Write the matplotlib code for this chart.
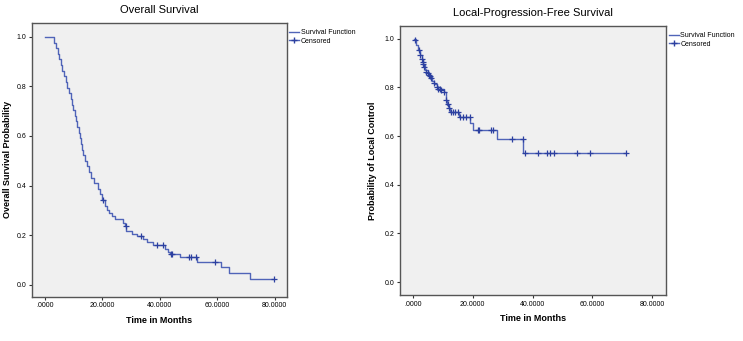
import numpy as np
import matplotlib.pyplot as plt
from matplotlib.lines import Line2D

plt.rcParams['font.family'] = ['Liberation Sans', 'DejaVu Sans']

# Overall survival: step times (months) and survival after each step
os_times = [0.0, 3.3, 3.9, 4.5, 5.0, 5.5, 6.1, 6.6, 7.2, 7.7, 8.3, 8.9, 9.4, 9.9,
            10.4, 10.9, 11.3, 11.7, 12.1, 12.5, 12.9, 13.3, 13.9, 14.5, 15.3,
            16.1, 17.1, 18.3, 19.0, 19.8, 20.9, 21.6, 22.4, 23.3, 24.3, 27.2,
            27.8, 28.3, 30.4, 31.9, 34.0, 35.5, 37.5, 41.9, 42.9, 43.5, 47.0,
            53.0, 61.1, 63.9, 71.5, 79.7]
os_surv = [1.0, 0.977, 0.955, 0.932, 0.909, 0.886, 0.864, 0.841, 0.818, 0.795,
           0.773, 0.750, 0.727, 0.705, 0.682, 0.659, 0.636, 0.614, 0.591, 0.568,
           0.545, 0.523, 0.500, 0.477, 0.455, 0.432, 0.409, 0.386, 0.364, 0.341,
           0.318, 0.300, 0.288, 0.277, 0.265, 0.250, 0.238, 0.215, 0.205, 0.195,
           0.185, 0.170, 0.158, 0.145, 0.132, 0.122, 0.113, 0.093, 0.070, 0.046,
           0.023, 0.023]
os_cens_t = [20.3, 28.2, 33.6, 38.9, 41.2, 43.7, 44.1, 50.3, 50.9, 52.7, 59.2, 79.7]
os_cens_s = [0.341, 0.238, 0.195, 0.158, 0.158, 0.122, 0.122, 0.113, 0.113, 0.113,
             0.093, 0.023]

# Local-progression-free survival
lp_times = [0.3, 1.2, 1.8, 2.4, 3.0, 3.5, 4.2, 5.0, 5.8, 6.6, 7.3, 8.1, 9.2,
            10.5, 11.2, 11.6, 12.0, 12.5, 15.6, 19.2, 20.3, 28.3, 36.9, 71.3]
lp_surv = [1.0, 0.975, 0.955, 0.935, 0.915, 0.894, 0.870, 0.855, 0.843, 0.828,
           0.815, 0.800, 0.792, 0.780, 0.750, 0.729, 0.715, 0.700, 0.680, 0.655,
           0.627, 0.587, 0.530, 0.530]
lp_cens_t = [0.7, 2.1, 2.6, 3.2, 3.4, 3.5, 3.7, 4.6, 5.0, 5.3, 5.7, 6.0, 7.3,
             8.1, 8.5, 9.0, 9.4, 10.5, 11.2, 11.7, 12.2, 12.9, 13.5, 14.1, 15.1,
             15.7, 16.8, 17.9, 19.0, 21.7, 22.3, 26.2, 26.7, 33.3, 36.8, 37.6,
             42.0, 45.0, 45.8, 47.2, 55.0, 59.1, 71.3]
lp_cens_s = [0.996, 0.952, 0.934, 0.916, 0.905, 0.895, 0.885, 0.865, 0.858,
             0.852, 0.846, 0.840, 0.818, 0.800, 0.795, 0.792, 0.790, 0.780, 0.750,
             0.730, 0.715, 0.700, 0.700, 0.700, 0.700, 0.680, 0.680, 0.680, 0.680,
             0.627, 0.627, 0.627, 0.627, 0.587, 0.587, 0.530, 0.530, 0.530, 0.530,
             0.530, 0.530, 0.530, 0.530]

x_ticks = [0, 20, 40, 60, 80]
x_labels = ['.0000', '20.0000', '40.0000', '60.0000', '80.0000']
y_ticks = [0.0, 0.2, 0.4, 0.6, 0.8, 1.0]

line_col = '#5064b8'
cens_col = '#2c40a0'

fig = plt.figure(figsize=(7.43, 3.41), dpi=100)
ax1 = fig.add_axes([0.0431, 0.130, 0.343, 0.803])
ax2 = fig.add_axes([0.538, 0.135, 0.359, 0.789])


def km_panel(ax, t, s, ct, cs, title, ylabel, xlim, ylim, ylab_x):
    ax.set_facecolor('#f0f0f0')
    ax.step(t, s, where='post', color=line_col, linewidth=1.0)
    ax.plot(ct, cs, '+', color=cens_col, markersize=4, markeredgewidth=0.9)
    ax.set_xlim(*xlim)
    ax.set_ylim(*ylim)
    ax.set_xticks(x_ticks)
    ax.set_xticklabels(x_labels)
    ax.set_yticks(y_ticks)
    ax.set_yticklabels([f'{v:.1f}' for v in y_ticks])
    ax.tick_params(labelsize=5, length=2.5, width=0.8, color='#333333', pad=1.5)
    for sp in ax.spines.values():
        sp.set_color('#555555')
        sp.set_linewidth(1.0)
    ax.set_title(title, fontsize=8, pad=7)
    ax.set_xlabel('Time in Months', fontsize=6.5, fontweight='bold', labelpad=5)
    ax.set_ylabel(ylabel, fontsize=6.5, fontweight='bold')
    ax.yaxis.set_label_coords(ylab_x, 0.5)
    handles = [Line2D([0], [0], color=line_col, linewidth=1.0),
               Line2D([0], [0], color=line_col, linewidth=1.0, marker='+',
                      markeredgecolor=cens_col, markersize=5)]
    ax.legend(handles, ['Survival Function', 'Censored'], loc='upper left',
              bbox_to_anchor=(1.0, 0.985), fontsize=5, frameon=False,
              handlelength=1.5, handletextpad=0.2, labelspacing=0.25,
              borderaxespad=0.2, borderpad=0.1)


km_panel(ax1, os_times, os_surv, os_cens_t, os_cens_s, 'Overall Survival',
         'Overall Survival Probability', (-4.5, 84.2), (-0.049, 1.057), -0.078)
km_panel(ax2, lp_times, lp_surv, lp_cens_t, lp_cens_s,
         'Local-Progression-Free Survival', 'Probability of Local Control',
         (-4.3, 84.7), (-0.053, 1.053), -0.085)

fig.savefig('out.png', dpi=100)
